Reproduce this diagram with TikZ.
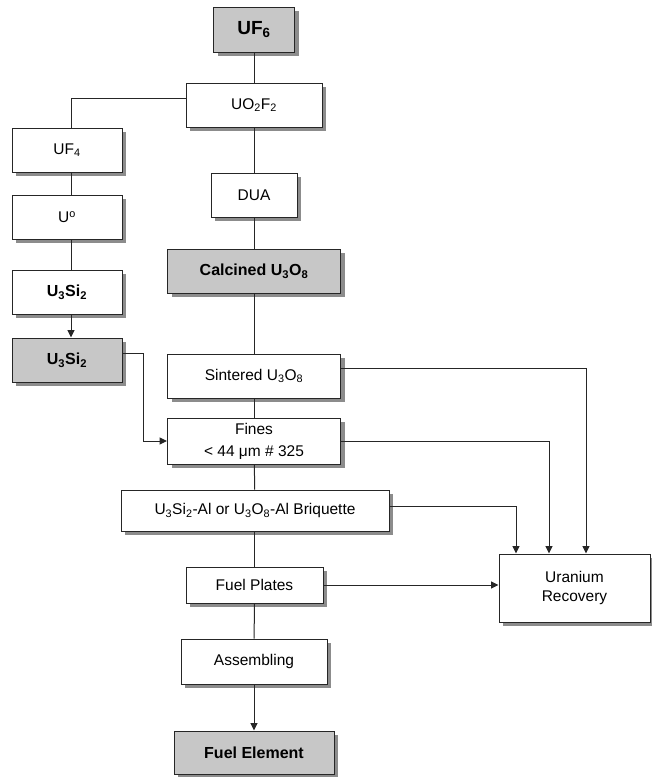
\documentclass[tikz,border=0pt]{standalone}
\usepackage{fontspec}
\setmainfont{Liberation Sans}
\usetikzlibrary{arrows.meta,shadows}
\begin{document}
\begin{tikzpicture}[x=1pt,y=-1pt,
  box/.style={draw=black!85, line width=1pt, fill=white, inner sep=0pt,
    font=\fontsize{15.5}{19}\selectfont, align=center,
    drop shadow={shadow xshift=4pt, shadow yshift=-4pt, fill=black!45, opacity=1}},
  gbox/.style={box, fill=black!22, font=\fontsize{16}{19}\selectfont\bfseries},
  bbox/.style={box, font=\fontsize{16}{19}\selectfont\bfseries},
  link/.style={draw=black!85, line width=1pt},
  arr/.style={link, -{Triangle[length=7.5pt,width=7pt]}}]
\useasboundingbox (0,0) rectangle (652,777);

% center column
\node[gbox, minimum width=81pt, minimum height=45pt, font=\fontsize{19}{22}\selectfont\bfseries] (UF6) at (254,29.5) {UF\textsubscript{6}};
\node[box, minimum width=136pt, minimum height=44pt] (UO2F2) at (254,105) {UO\textsubscript{2}F\textsubscript{2}};
\node[box, minimum width=86pt, minimum height=44pt] (DUA) at (254,195) {DUA};
\node[gbox, minimum width=173pt, minimum height=44pt] (Calc) at (254,271) {Calcined U\textsubscript{3}O\textsubscript{8}};
\node[box, minimum width=173pt, minimum height=44pt] (Sint) at (254,376) {Sintered U\textsubscript{3}O\textsubscript{8}};
\node[box, minimum width=173pt, minimum height=46pt, font=\fontsize{15.5}{22}\selectfont] (Fines) at (254,441) {Fines\\< 44 μm \# 325};
\node[box, minimum width=268pt, minimum height=41pt] (Briq) at (255,510.5) {U\textsubscript{3}Si\textsubscript{2}-Al or U\textsubscript{3}O\textsubscript{8}-Al Briquette};
\node[box, minimum width=137pt, minimum height=36pt] (Plates) at (254.5,585) {Fuel Plates};
\node[box, minimum width=146pt, minimum height=45pt] (Assem) at (254,661.5) {Assembling};
\node[gbox, minimum width=160pt, minimum height=43pt] (Elem) at (254,752.5) {Fuel Element};

% left column
\node[box, minimum width=110pt, minimum height=44pt] (UF4) at (67,150) {UF\textsubscript{4}};
\node[box, minimum width=110pt, minimum height=44pt] (U0) at (67,217) {U\textsuperscript{o}};
\node[bbox, minimum width=110pt, minimum height=44pt] (Si1) at (67,292) {U\textsubscript{3}Si\textsubscript{2}};
\node[gbox, minimum width=110pt, minimum height=44pt] (Si2) at (67,360) {U\textsubscript{3}Si\textsubscript{2}};

% recovery
\node[box, minimum width=151pt, minimum height=68pt] (UR) at (574.5,588) {Uranium\\Recovery};

% main chain
\draw[link] (UF6) -- (UO2F2);
\draw[link] (UO2F2) -- (DUA);
\draw[link] (DUA) -- (Calc);
\draw[link] (Calc) -- (Sint);
\draw[link] (Sint) -- (Fines);
\draw[link] (Fines) -- (Briq);
\draw[link] (Briq.south -| Plates.north) -- (Plates.north);
\draw[link] (Plates) -- (Assem);
\draw[arr] (Assem) -- (Elem);

% left branch
\draw[link] ([yshift=7pt]UO2F2.west) -| ([xshift=4pt]UF4.north);
\draw[link] ([xshift=4pt]UF4.south) -- ([xshift=4pt]U0.north);
\draw[link] ([xshift=4pt]U0.south) -- ([xshift=4pt]Si1.north);
\draw[arr] ([xshift=4pt]Si1.south) -- ([xshift=4pt]Si2.north);
\draw[arr] ([yshift=7pt]Si2.east) -- ++(21,0) |- (Fines.west);

% to recovery
\draw[arr] ([yshift=8pt]Sint.east) -| ([xshift=11.5pt]UR.north);
\draw[arr] (Fines.east) -| ([xshift=-25.5pt]UR.north);
\draw[arr] ([yshift=4.5pt]Briq.east) -| ([xshift=-58.5pt]UR.north);
\draw[arr] (Plates.east) -- (Plates.east -| UR.west);
\end{tikzpicture}
\end{document}
